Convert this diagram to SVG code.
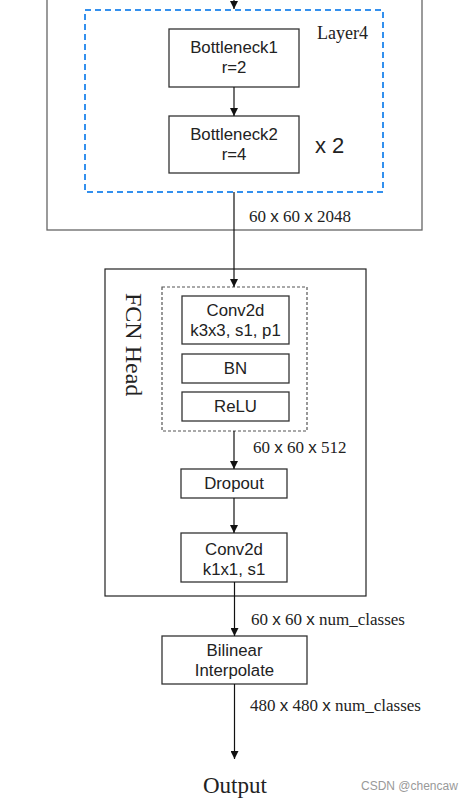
<svg xmlns="http://www.w3.org/2000/svg" width="472" height="801" viewBox="0 0 472 801">
<defs>
<marker id="arr" viewBox="0 0 10 10" refX="10" refY="5" markerWidth="8" markerHeight="8" markerUnits="userSpaceOnUse" orient="auto">
<path d="M0,0 L10,5 L0,10 z" fill="#111"/>
</marker>
<style>
.box{fill:#fff;stroke:#333;stroke-width:1.3}
.t{font-family:"Liberation Sans",Arial,sans-serif;font-size:16.8px;fill:#222;text-anchor:middle}
.s{font-family:"Liberation Serif","Times New Roman",serif;font-size:17px;fill:#222}
.x{font-family:"Liberation Sans",Arial,sans-serif}
.c{stroke:#111;stroke-width:1.2;fill:none}
.ca{stroke:#111;stroke-width:1.2;fill:none;marker-end:url(#arr)}
</style>
</defs>
<rect width="472" height="801" fill="#fff"/>
<g id="backbone">
<rect x="47" y="-10" width="375" height="240" fill="none" stroke="#666" stroke-width="1.3"/>
</g>
<g id="layer4">
<rect x="85" y="10" width="298" height="182" fill="none" stroke="#3390ee" stroke-width="2" stroke-dasharray="6,4"/>
<text class="s" x="317" y="39" style="font-size:18px">Layer4</text>
<text x="315" y="153" style="font-family:'Liberation Sans',Arial,sans-serif;font-size:22px;fill:#222">x 2</text>
</g>
<g id="bottleneck1">
<rect class="box" x="169" y="29" width="130" height="58"/>
<text class="t" x="234" y="53">Bottleneck1</text>
<text class="t" x="234" y="73">r=2</text>
</g>
<g id="bottleneck2">
<rect class="box" x="169" y="116" width="130" height="57"/>
<text class="t" x="234" y="140">Bottleneck2</text>
<text class="t" x="234" y="160">r=4</text>
</g>
<g id="fcnhead">
<rect x="105" y="269" width="261" height="327" fill="none" stroke="#222" stroke-width="1.2"/>
<text class="s" transform="translate(126,293) rotate(90)" style="font-size:24px">FCN Head</text>
</g>
<g id="convblock">
<rect x="162" y="287" width="145" height="144" fill="none" stroke="#555" stroke-width="1.2" stroke-dasharray="3,2"/>
</g>
<g id="conv3x3">
<rect class="box" x="182" y="296" width="107" height="48"/>
<text class="t" x="235.5" y="316">Conv2d</text>
<text class="t" x="235.5" y="336">k3x3, s1, p1</text>
</g>
<g id="bn">
<rect class="box" x="182" y="354" width="107" height="29"/>
<text class="t" x="235.5" y="374">BN</text>
</g>
<g id="relu">
<rect class="box" x="182" y="392" width="107" height="29"/>
<text class="t" x="235.5" y="412">ReLU</text>
</g>
<g id="dropout">
<rect class="box" x="181" y="469" width="106" height="29"/>
<text class="t" x="234" y="489">Dropout</text>
</g>
<g id="conv1x1">
<rect class="box" x="181" y="533" width="106" height="49"/>
<text class="t" x="234" y="555">Conv2d</text>
<text class="t" x="234" y="575">k1x1, s1</text>
</g>
<g id="bilinear">
<rect class="box" x="162" y="636" width="145" height="48"/>
<text class="t" x="234.5" y="656">Bilinear</text>
<text class="t" x="234.5" y="676">Interpolate</text>
</g>
<g id="output">
<text class="s" x="203" y="793" style="font-size:23px">Output</text>
</g>
<g id="connectors">
<line class="ca" x1="234" y1="-2" x2="234" y2="9"/>
<line class="ca" x1="234" y1="87" x2="234" y2="116"/>
<line class="ca" x1="234" y1="192" x2="234" y2="287"/>
<line class="ca" x1="234" y1="431" x2="234" y2="469"/>
<line class="ca" x1="234" y1="498" x2="234" y2="533"/>
<line class="ca" x1="234.5" y1="582" x2="234.5" y2="636"/>
<line class="ca" x1="234.5" y1="684" x2="234.5" y2="759"/>
</g>
<g id="labels">
<text class="s" x="249" y="222">60 <tspan class="x">x</tspan> 60 <tspan class="x">x</tspan> 2048</text>
<text class="s" x="253" y="453">60 <tspan class="x">x</tspan> 60 <tspan class="x">x</tspan> 512</text>
<text class="s" x="251" y="625">60 <tspan class="x">x</tspan> 60 <tspan class="x">x</tspan> num_classes</text>
<text class="s" x="250" y="711">480 <tspan class="x">x</tspan> 480 <tspan class="x">x</tspan> num_classes</text>
<text x="361" y="790" style="font-family:'Liberation Sans',Arial,sans-serif;font-size:12px;fill:#999">CSDN @chencaw</text>
</g>
</svg>
